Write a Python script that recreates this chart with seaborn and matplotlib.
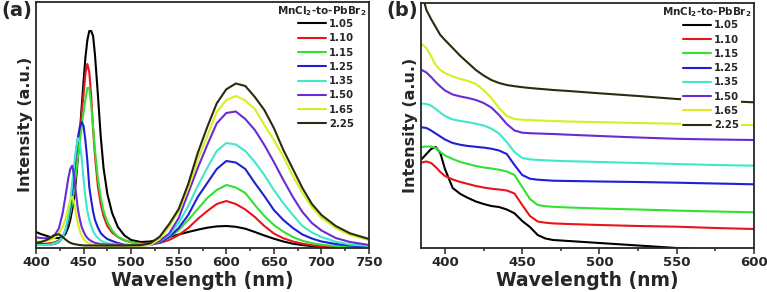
import numpy as np
import pandas as pd
import matplotlib
matplotlib.use("Agg")
import matplotlib.pyplot as plt
from matplotlib.ticker import MultipleLocator
import seaborn as sns

sns.set_style("ticks")
plt.rcParams['font.family'] = ['DejaVu Sans']
plt.rcParams['font.weight'] = 'bold'
plt.rcParams['mathtext.default'] = 'bf'

# MnCl2-to-PbBr2 ratios and line colours
ratios = ["1.05", "1.10", "1.15", "1.25", "1.35", "1.50", "1.65", "2.25"]
colors = ["#000000", "#e8141b", "#33e033", "#1f1fd6", "#3fe8c8", "#6a2bd6", "#d8ee22", "#2b2b0e"]

# (a) PL spectra, wavelength grid (nm)
pl_wl = [400, 405, 410, 415, 420, 424, 428, 431, 434, 436, 438, 440, 442, 444, 446, 448, 450, 452,
         454, 456, 458, 460, 462, 465, 468, 471, 475, 480, 486, 493, 500, 510, 520, 530, 540, 550,
         560, 570, 580, 590, 600, 610, 620, 630, 640, 650, 660, 670, 680, 690, 700, 715, 730, 750]
pl_105 = [16, 14, 12.5, 11, 10, 10, 11.3, 14, 21, 28, 38, 50, 68, 90, 114, 141, 167, 191,
          208, 217, 217, 212, 193, 154, 112, 80, 54, 35, 21, 12.5, 8, 6, 6.5, 8.5, 11, 13.5,
          16, 18.3, 20.3, 21.6, 22, 21.2, 19.3, 16, 12.5, 9.3, 6.5, 4.3, 2.9, 1.9, 1.3, 0.9, 0.6, 0.4]
pl_110 = [4, 4, 4.2, 4.8, 5.8, 7.5, 11, 17.5, 27, 36, 47, 59, 75, 92, 112, 134, 154, 175,
          184, 176, 152, 119, 92, 62, 44, 32, 22, 15.5, 11, 7.5, 5.8, 4.5, 4, 5, 8, 13,
          20, 29, 37, 44, 47, 44, 38.5, 31, 22, 14.5, 9.7, 6.5, 4.3, 2.8, 1.8, 1.2, 0.8, 0.5]
pl_115 = [3, 3, 3.5, 4, 5, 6.5, 11, 17, 27, 35, 45, 58, 75, 91, 107, 121, 136, 149,
          160, 160, 143, 121, 98, 70, 51, 37, 26, 17.5, 11.3, 8, 5.8, 4, 3.8, 6, 10.5, 18,
          28, 39, 50, 58, 63, 60.5, 55, 43, 32, 23, 16.3, 11, 7.2, 4.8, 3.3, 2, 1.3, 0.8]
pl_125 = [4.7, 4, 3.5, 3.5, 4.2, 6, 11, 17, 29, 40, 57, 76, 95, 110, 121, 126, 122, 107,
          87, 61, 48, 36.5, 28, 20.5, 15, 12, 9, 7, 5, 3.3, 3, 2.8, 3, 5.5, 11, 20,
          33, 51, 65, 79, 87, 85.5, 79, 65, 52, 38, 28, 20, 13.5, 9.5, 6.5, 4, 2.5, 1.5]
pl_135 = [3.5, 3, 3, 3.3, 4.5, 6.5, 11, 18.5, 32, 45, 64, 83, 98, 110, 106, 90, 69, 50,
          37, 28, 22, 17, 13.5, 10, 7.5, 6, 4.8, 4, 3.4, 3, 2.8, 2.6, 3, 6.5, 13, 25,
          42, 62, 80, 97, 105, 103.5, 97, 86, 73, 58, 44.7, 33, 22, 15.5, 11, 6.3, 3.5, 2]
pl_150 = [10.7, 10, 9.7, 10.5, 13.5, 19.5, 34.7, 52, 70, 79, 82.3, 73, 55, 39, 29, 21, 16.5, 12.5,
          10, 8.3, 7, 6, 5.2, 4.5, 4, 3.7, 3.4, 3.2, 3, 2.8, 2.7, 2.7, 3.2, 7, 14.5, 30,
          55, 80, 103, 124.7, 135, 136.5, 129, 118, 103, 86, 68, 51, 36, 25, 17.5, 10, 6, 3]
pl_165 = [6.3, 6.5, 7, 8.3, 10.5, 14.5, 21.3, 29, 41, 48, 51.3, 46, 35, 25, 17, 12.5, 9, 7,
          5.5, 4.5, 3.6, 3, 2.8, 2.6, 2.5, 2.4, 2.3, 2.2, 2.2, 2.1, 2.1, 2.2, 3, 9, 21, 37,
          60, 88, 112, 136, 148, 152, 147.5, 139, 123, 108, 91.3, 72, 55, 41, 30, 20, 13, 8]
pl_225 = [5, 6, 7.5, 10, 13, 13.8, 11, 8.5, 6.3, 5.2, 4.5, 4, 3.6, 3.3, 3, 2.8, 2.6, 2.5,
          2.5, 2.5, 2.5, 2.5, 2.5, 2.5, 2.5, 2.5, 2.5, 2.5, 2.5, 2.5, 2.6, 2.8, 4.7, 11.3, 24, 39,
          64, 95, 121, 144.7, 158.7, 164.5, 162, 151, 138, 120, 98, 79, 60, 44, 33, 22, 14.7, 9]

# (b) absorption spectra (offset), wavelength grid (nm)
ab_wl = [385, 388, 391, 394, 397, 400, 405, 410, 415, 420, 425, 430, 435, 440, 445, 450, 455,
         460, 465, 470, 480, 500, 525, 550, 575, 600]
ab_105 = [89, 94, 99, 101, 95, 79, 60, 54, 50, 46.5, 44, 42, 41, 38.5, 34.7, 27, 21,
          13, 9.5, 8, 7, 5, 2.5, 0, -2, -4]
ab_110 = [85.5, 86.5, 85, 81, 76, 72, 68.5, 66, 64, 62, 60.5, 59.3, 58.5, 57.5, 54.5, 43, 32,
          26.5, 25.3, 24.6, 24, 23, 22, 21.3, 20, 19]
ab_115 = [101, 101.5, 101.5, 100, 96, 92.5, 89, 86, 84, 82, 80.5, 79.5, 78.3, 76.5, 73, 61, 49,
          43, 41.8, 41.2, 40.5, 39.5, 38.5, 37.4, 36.5, 35.7]
ab_125 = [120.7, 120, 117.5, 114.5, 111.5, 108.5, 105, 103.2, 102, 101.2, 100.4, 99.3, 97.5, 94, 83, 73, 69.3,
          68.3, 67.8, 67.3, 67, 66.5, 66, 65.3, 64.5, 63.7]
ab_135 = [144.5, 144, 142.5, 139, 135.5, 132, 128.5, 127, 125.8, 124.3, 122.5, 119.5, 114.5, 106, 96, 90, 88.6,
          88.1, 87.7, 87.3, 86.8, 86, 85, 84, 83, 82.3]
ab_150 = [178, 175.5, 171, 166, 161.5, 157.5, 153.5, 151.5, 150, 148, 145, 140.5, 133, 124, 117.5, 115.3, 114.8,
          114.5, 114.2, 114, 113.3, 112, 110.5, 109.2, 108.5, 108]
ab_165 = [204, 200, 192, 183, 178, 175, 171.5, 169, 167, 164, 158, 150, 140, 132, 129, 128.3, 128,
          127.6, 127.3, 127, 126.5, 125.8, 125, 124.2, 123.5, 123]
ab_225 = [255, 238, 229, 221, 213, 208, 200, 192, 185, 178, 172.5, 168, 165, 163, 161.8, 160.8, 160,
          159.3, 158.7, 158, 157, 154.7, 152, 149, 147.3, 145.7]

pl_series = [pl_105, pl_110, pl_115, pl_125, pl_135, pl_150, pl_165, pl_225]
ab_series = [ab_105, ab_110, ab_115, ab_125, ab_135, ab_150, ab_165, ab_225]


def long_frame(wl, series):
    return pd.DataFrame({"wl": np.tile(wl, len(series)),
                         "I": np.concatenate(series),
                         "ratio": np.repeat(ratios, len(wl))})


fig = plt.figure(figsize=(7.67, 2.92), dpi=100)
ax1 = fig.add_axes([36 / 767, 44 / 292, 333 / 767, 246.5 / 292])
ax2 = fig.add_axes([421 / 767, 44 / 292, 333 / 767, 245 / 292])

panels = [(ax1, pl_wl, pl_series, (400, 750), (0, 246.5), "(a)", 1),
          (ax2, ab_wl, ab_series, (384.5, 600), (0, 245), "(b)", 386)]

for ax, wl, series, xlim, ylim, tag, tag_x in panels:
    df = long_frame(wl, series)
    sns.lineplot(data=df, x="wl", y="I", hue="ratio", hue_order=ratios, palette=colors,
                 lw=1.5, legend=False, errorbar=None, sort=False, ax=ax)
    ax.set_xlim(*xlim)
    ax.set_ylim(*ylim)
    ax.set_yticks([])
    ax.xaxis.set_major_locator(MultipleLocator(50))
    ax.xaxis.set_minor_locator(MultipleLocator(25))
    ax.tick_params(axis="x", which="major", direction="out", length=4, width=1.1, labelsize=9.5, pad=2)
    ax.tick_params(axis="x", which="minor", direction="out", length=2.5, width=1.1)
    for s in ax.spines.values():
        s.set_visible(True)
        s.set_linewidth(1.3)
    ax.set_xlabel("Wavelength (nm)", fontsize=13.5, fontweight="bold", labelpad=1)
    ax.set_ylabel("Intensity (a.u.)", fontsize=11.5, fontweight="bold", labelpad=2)

    lg = ax.legend(ax.lines[:len(ratios)], ratios, loc="upper left", bbox_to_anchor=(0.781, 0.935),
                   frameon=True, framealpha=1, facecolor="white", edgecolor="none",
                   fontsize=7.3, borderpad=0.15, borderaxespad=0, handlelength=2.8,
                   handletextpad=0.3, labelspacing=0.42)
    for t in lg.get_texts():
        t.set_fontweight("bold")
    ax.text(0.993, 0.99, r"MnCl$_2$-to-PbBr$_2$", transform=ax.transAxes, ha="right", va="top",
            fontsize=7.5, fontweight="bold")
    fig.text(tag_x / 767, 1 - 1 / 292, tag, ha="left", va="top", fontsize=14, fontweight="bold")

fig.savefig("out.png", dpi=100)
